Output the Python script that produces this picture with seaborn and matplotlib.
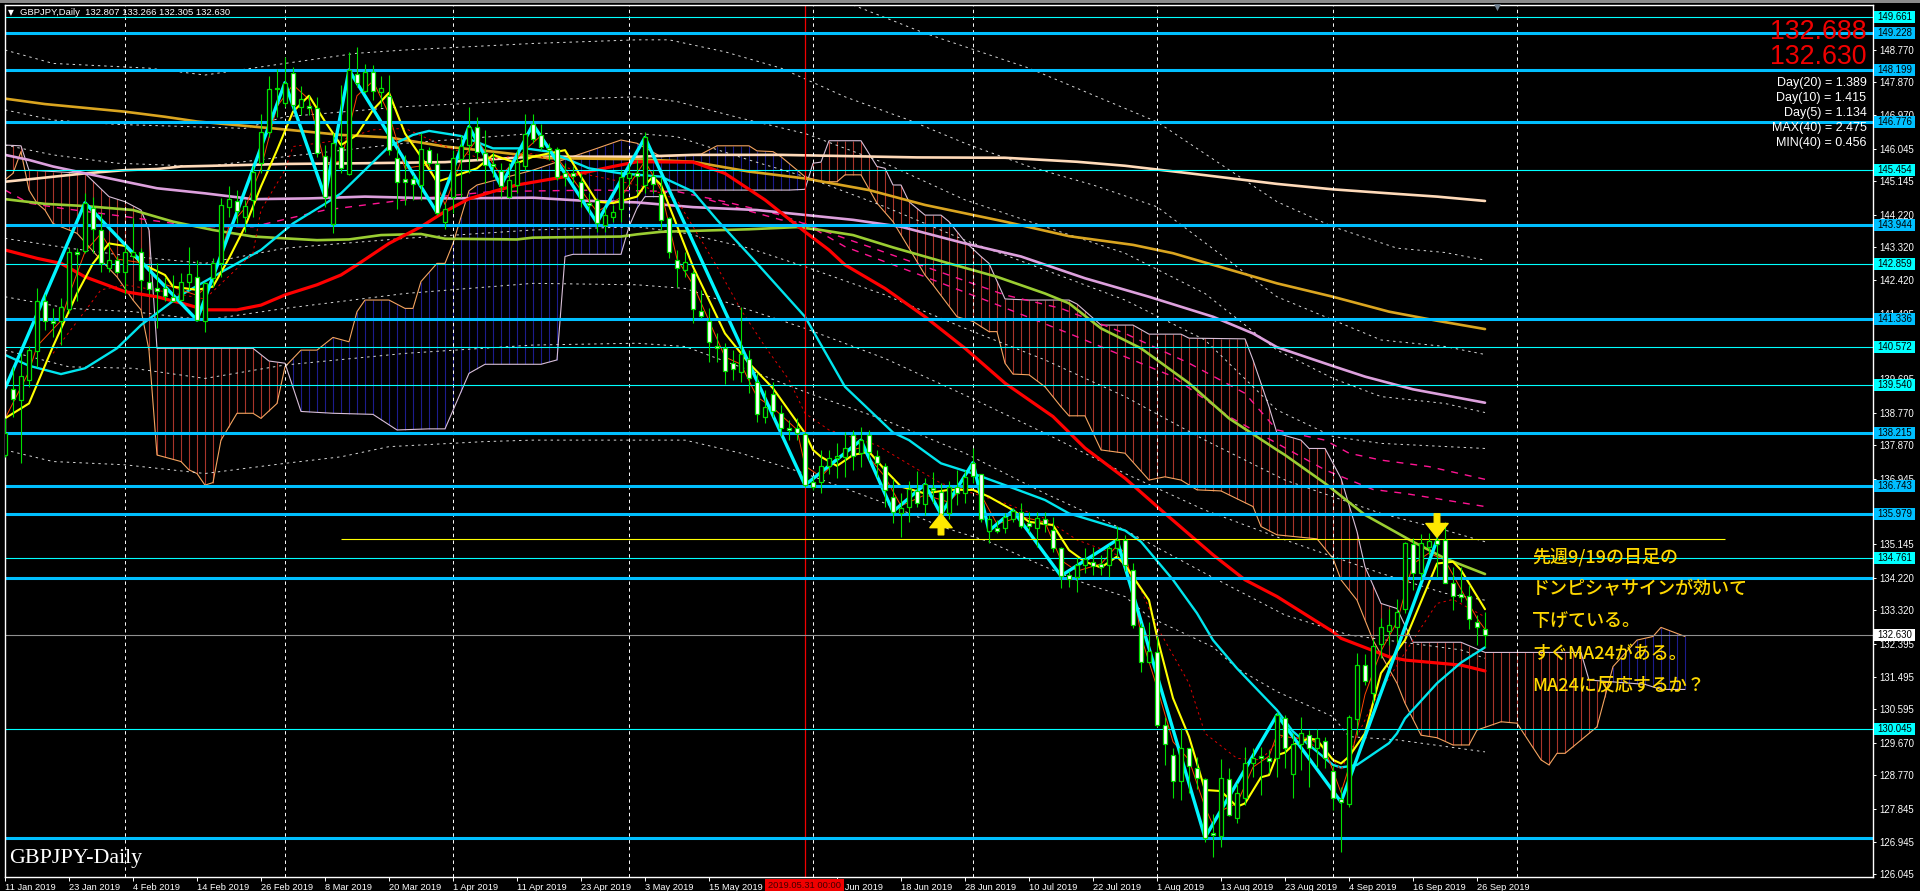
import numpy as np
import matplotlib
matplotlib.use('Agg')
import matplotlib.pyplot as plt
from matplotlib.patches import Rectangle
from matplotlib.transforms import blended_transform_factory
import seaborn as sns

# daily candles, 186 bars
opens = [137.60,139.41,139.12,139.67,140.47,141.83,141.29,141.30,141.61,143.18,
         143.23,144.40,143.80,142.74,142.97,142.65,143.07,143.20,142.38,142.19,
         142.19,141.94,141.87,142.38,142.51,141.30,142.47,142.88,144.44,144.61,
         144.17,144.63,145.64,146.51,147.70,147.29,148.12,147.20,147.23,147.15,
         145.85,143.97,146.10,145.34,148.10,147.63,148.16,147.59,147.50,145.79,
         145.20,145.21,145.04,146.00,145.61,144.03,144.72,145.75,146.14,146.65,
         145.93,145.61,145.43,144.72,145.04,145.56,146.71,146.42,146.07,146.03,
         145.36,145.36,145.13,144.55,144.63,143.94,144.15,144.37,145.22,145.36,
         145.04,145.30,144.78,144.12,142.97,142.70,142.62,141.58,141.30,140.59,
         140.56,140.14,139.88,140.25,139.62,138.66,139.27,138.77,138.34,138.34,
         138.18,136.85,136.85,137.30,137.51,137.55,138.15,137.65,138.15,137.58,
         137.31,136.45,136.00,136.16,136.62,136.25,136.68,136.59,136.00,136.73,
         136.54,137.39,137.07,135.51,135.58,135.58,135.83,136.04,135.72,135.58,
         135.85,135.52,135.03,134.29,134.23,134.57,134.64,134.60,134.57,135.03,
         135.26,134.43,132.87,131.91,132.18,130.16,129.33,128.62,129.52,128.98,
         128.67,127.19,127.11,128.67,127.59,128.14,129.12,129.31,129.26,129.24,
         130.36,128.80,129.64,129.88,129.52,129.73,128.88,128.11,127.97,130.32,
         131.80,131.03,132.39,132.76,132.87,133.35,135.15,134.36,135.07,135.26,
         135.27,134.08,133.78,133.71,133.01,132.807]
highs = [138.61,140.03,140.40,140.59,142.19,142.05,141.64,141.92,143.30,143.30,
         144.83,144.72,144.26,143.43,143.07,143.39,144.12,143.30,142.79,142.88,
         142.51,142.56,142.61,143.32,142.97,142.38,143.02,144.67,145.00,144.90,
         144.63,145.55,147.01,148.04,148.25,148.56,148.30,147.77,147.52,147.47,
         146.14,146.46,147.80,148.71,148.85,148.37,148.35,148.03,148.07,146.05,
         145.87,145.32,146.46,146.10,145.91,144.54,146.00,146.42,147.18,146.92,
         146.56,145.96,145.64,145.64,146.00,147.00,147.00,146.72,146.19,146.10,
         145.64,145.55,145.36,144.81,144.67,144.44,144.49,145.45,145.64,145.73,
         146.49,145.45,145.27,144.17,143.25,143.20,142.70,142.15,141.64,140.95,
         140.68,140.49,141.69,140.49,139.85,139.39,139.62,138.98,138.57,138.61,
         138.24,137.00,137.74,137.74,137.92,138.24,138.29,138.38,138.29,137.74,
         137.37,136.93,136.54,136.87,137.17,136.96,137.12,136.82,136.89,137.19,
         137.19,137.78,137.09,135.95,135.81,135.99,136.13,136.27,136.04,136.04,
         136.04,135.90,135.07,134.39,134.80,135.03,135.07,134.84,135.12,135.64,
         135.40,134.62,132.96,133.01,132.60,130.39,129.52,130.07,129.52,129.29,
         128.69,127.72,129.21,128.97,128.55,129.56,129.52,129.56,129.47,130.53,
         130.44,129.93,130.37,130.02,130.04,129.84,129.06,128.46,130.44,132.14,
         132.11,132.53,133.10,133.37,133.62,135.21,135.30,135.41,135.44,135.72,
         135.76,134.52,134.52,134.02,133.19,133.266]
lows = [137.55,138.66,137.37,139.48,140.03,141.04,140.86,140.63,141.50,141.83,
        143.16,143.16,142.65,142.65,142.61,142.05,143.02,142.15,142.05,141.09,
        141.83,141.83,141.83,142.15,141.28,141.00,142.24,142.51,144.17,143.98,
        143.75,144.17,145.36,146.37,146.92,147.20,147.11,146.97,146.97,145.82,
        144.44,143.71,145.36,145.32,147.73,147.58,147.38,147.20,145.87,144.37,
        144.49,144.63,144.63,145.55,144.21,143.82,144.26,144.72,145.36,145.73,
        145.09,145.27,144.72,144.67,144.81,145.45,146.19,146.00,145.73,145.18,
        145.00,145.09,144.44,144.26,143.75,143.75,144.03,144.03,145.00,144.81,
        144.81,144.81,143.80,143.02,142.24,142.51,141.23,141.37,140.17,140.17,
        139.56,139.67,139.62,139.30,138.52,138.49,138.66,138.11,138.01,138.01,
        136.73,136.64,136.54,137.09,136.98,137.00,137.19,137.28,137.46,137.00,
        136.18,135.72,135.35,135.76,136.18,135.95,136.27,135.67,135.85,136.22,
        136.27,136.82,135.76,135.17,135.44,135.44,135.76,135.58,135.49,135.07,
        135.49,134.94,133.93,133.97,133.83,134.34,134.29,134.29,134.23,134.80,
        134.39,132.82,131.63,131.86,130.11,129.06,128.16,128.09,128.28,128.41,
        126.95,126.53,126.79,127.64,127.45,127.96,128.74,128.23,128.83,128.74,
        128.97,128.16,128.92,128.46,129.01,128.97,127.82,126.67,127.91,129.88,
        131.26,130.76,132.00,132.36,132.46,133.24,133.88,134.16,134.84,134.25,
        134.06,133.33,133.56,132.81,132.36,132.305]
closes = [138.20,139.13,139.78,140.49,141.83,141.28,141.23,141.69,143.20,143.13,
          144.55,143.82,142.90,142.97,142.65,143.18,143.20,142.42,142.17,142.13,
          141.99,141.85,142.38,142.58,141.32,142.33,142.88,144.49,144.65,144.33,
          144.46,145.39,146.51,147.68,147.68,147.86,147.25,147.40,147.15,145.91,
          144.72,146.19,145.50,148.21,147.84,148.16,147.63,147.72,146.00,145.12,
          145.13,145.07,146.03,145.64,144.28,144.37,145.78,146.12,146.65,145.96,
          145.59,145.55,145.02,145.18,145.66,146.44,146.30,146.10,146.00,145.27,
          145.27,145.29,144.65,144.49,144.00,144.21,144.29,145.27,145.36,145.29,
          146.35,145.07,144.08,143.18,142.74,142.93,141.61,141.43,140.72,140.54,
          139.91,139.96,140.37,139.71,138.72,138.91,138.81,138.34,138.29,138.22,
          136.77,136.73,137.31,137.53,137.57,137.78,137.57,138.01,137.67,137.37,
          136.64,136.04,136.13,136.65,136.27,136.79,136.64,135.97,136.71,136.54,
          137.00,137.03,135.85,135.83,135.51,135.88,136.07,135.65,135.65,135.87,
          135.70,135.03,134.27,134.17,134.57,134.73,134.55,134.52,135.03,135.26,
          134.57,132.92,131.91,132.21,130.16,129.64,128.62,129.52,129.03,128.69,
          127.06,127.14,128.71,127.68,128.28,129.12,129.24,129.26,129.18,130.44,
          129.52,129.65,129.93,129.54,129.79,129.24,128.14,128.04,130.39,131.80,
          131.37,132.35,132.87,132.92,133.28,135.17,134.36,135.17,135.22,135.15,
          134.08,133.71,133.70,133.08,132.85,132.630]

# zigzag pivots
zig_bars = [0,10,24,35,40,43,54,58,62,66,74,80,100,107,111,115,117,121,123,126,132,139,150,159,167,179]
zig_vals = [139.43,144.55,141.32,147.86,144.72,148.21,144.28,146.65,145.02,146.71,144.00,146.35,136.77,
            138.01,136.04,136.79,135.97,137.39,135.51,136.07,134.27,135.26,127.06,130.44,128.04,135.26]

# moving averages, read at the bends
ma24_bars = [0,3,7,10,14,17,22,26,32,36,40,42,48,51,53,57,61,65,68,73,77,82,86,89,94,100,105,111,113,117,
             121,125,130,133,140,142,146,149,151,154,159,161,166,167,169,173,174,175,179,182,185]
ma24_vals = [140.36,140.06,139.83,139.99,140.54,141.18,142.01,142.51,143.25,143.98,144.52,144.81,146.10,
             146.42,146.53,146.39,146.05,146.05,145.96,145.50,145.36,145.27,144.86,144.08,142.88,141.41,
             139.48,138.22,138.01,137.37,137.09,136.77,136.36,135.99,135.52,135.21,134.16,133.24,132.50,
             131.72,130.57,129.98,129.06,128.99,129.06,129.66,129.93,130.34,131.31,131.88,132.30]
yellow_bars = [0,3,6,9,11,13,15,17,20,21,24,26,28,30,32,34,36,38,40,42,44,46,48,50,52,54,56,59,61,64,66,70,
               72,74,76,79,80,81,82,86,90,93,96,100,101,102,104,106,108,110,112,115,118,121,123,126,128,131,
               133,135,137,139,140,143,144,146,148,150,152,154,155,157,158,159,160,161,163,164,166,167,168,
               170,172,175,179,181,182,185]
yellow_vals = [138.61,139.02,140.59,142.05,142.88,143.43,143.36,142.88,142.56,142.24,142.15,142.24,143.02,
               143.89,145.00,146.00,147.06,147.50,146.79,146.14,146.42,147.11,147.58,146.46,145.82,145.13,
               145.27,145.50,145.87,145.64,145.82,146.00,145.27,144.58,144.54,144.72,145.04,145.27,145.04,
               142.79,140.95,140.13,139.44,138.20,137.74,137.55,137.30,137.60,137.69,137.19,136.73,136.54,
               136.64,136.64,136.45,136.08,135.76,135.67,134.98,134.66,134.50,134.80,134.57,133.60,132.60,
               130.90,129.84,128.37,128.34,127.91,128.00,128.72,128.78,129.33,129.40,129.61,129.79,129.75,
               129.20,129.10,129.29,129.93,131.59,132.50,134.61,134.66,134.43,133.35]
red_bars = [0,4,7,10,15,19,23,25,29,32,35,39,42,44,48,52,55,58,61,64,70,76,79,86,90,95,100,103,105,110,115,
            120,125,131,135,140,145,151,155,159,166,167,173,175,182,185]
red_vals = [143.25,143.02,142.88,142.51,142.10,141.96,141.73,141.60,141.60,141.73,142.01,142.29,142.56,
            142.84,143.43,143.89,144.31,144.66,144.86,145.04,145.27,145.55,145.68,145.67,145.36,144.63,
            143.75,143.25,142.84,142.19,141.41,140.54,139.58,138.66,137.79,136.96,135.99,134.85,134.16,
            133.70,132.73,132.55,132.04,131.95,131.81,131.65]
olive_bars = [0,5,10,16,21,26,31,39,43,47,52,55,64,66,77,79,82,93,99,102,106,111,118,124,130,133,137,142,
              148,153,159,160,165,170,176,180,185]
olive_vals = [144.65,144.52,144.46,144.35,144.03,143.80,143.62,143.52,143.54,143.66,143.69,143.56,143.54,
              143.59,143.62,143.68,143.75,143.82,143.88,143.80,143.66,143.32,142.88,142.51,142.05,141.78,
              141.09,140.54,139.58,138.61,137.74,137.60,136.82,135.95,135.21,134.75,134.32]
plum_bars = [0,3,6,9,12,19,25,31,38,45,54,66,72,79,86,94,106,112,120,127,135,143,151,156,159,166,170,176,185]
plum_vals = [145.87,145.73,145.55,145.41,145.27,144.95,144.81,144.65,144.67,144.72,144.67,144.69,144.61,
             144.56,144.43,144.35,144.08,143.89,143.43,143.07,142.47,141.96,141.41,140.95,140.57,140.05,
             139.76,139.41,139.04]
gold_bars = [0,5,15,20,24,31,35,42,48,55,61,68,79,86,93,100,108,115,125,133,141,146,151,159,166,173,179,185]
gold_vals = [147.42,147.27,147.06,146.92,146.79,146.65,146.57,146.42,146.35,146.10,145.96,145.78,145.75,
             145.68,145.41,145.22,144.90,144.49,144.03,143.63,143.39,143.16,142.84,142.33,141.96,141.55,
             141.30,141.07]
peach_bars = [0,4,10,15,19,22,26,35,45,55,66,79,86,97,114,125,134,140,147,159,166,173,179,185]
peach_vals = [145.13,145.22,145.36,145.45,145.48,145.55,145.57,145.62,145.64,145.67,145.82,145.82,145.87,
              145.87,145.80,145.79,145.68,145.57,145.39,145.07,144.92,144.81,144.72,144.60]
pink1_bars = [0,3,7,15,24,31,40,50,61,74,84,90,97,102,108,115,125,132,140,148,155,159,165,168,172,178,185]
pink1_vals = [144.90,144.54,144.40,144.17,143.89,143.89,144.35,144.63,144.86,144.90,144.86,144.58,144.21,
              143.80,143.34,142.79,142.01,141.64,140.95,140.13,139.30,138.29,138.01,137.65,137.46,137.28,136.93]
pink2_bars = [88,97,100,105,115,123,133,146,153,159,165,171,175,185]
pink2_vals = [144.63,144.08,143.98,143.34,142.51,141.83,140.95,139.76,138.66,137.92,137.19,136.65,136.54,136.18]
fast_bars = [0,3,4,7,8,10,12,14,17,20,24,26,28,30,32,34,36,38,40,42,44,46,48,50,53,55,57,59,62,65,67,70,74,
             77,80,82,84,86,88,90,92,94,96,99,100,102,105,107,110,112,115,118,120,122,124,127,130,132,134,137,
             139,140,141,142,144,146,148,150,151,152,154,156,158,159,161,163,165,167,168,170,172,174,176,178,
             180,182,184,185]
fast_vals = [138.6,139.9,140.6,141.3,142.0,143.2,143.7,143.0,142.9,142.3,142.0,142.4,143.9,144.4,145.5,147.2,
             147.8,147.4,145.6,145.7,147.5,147.9,147.0,145.5,145.6,144.5,145.7,146.3,145.3,146.0,146.4,145.5,
             144.3,144.7,145.7,144.9,143.0,142.3,141.3,140.3,140.1,139.2,138.9,138.3,137.3,137.0,137.7,137.8,
             137.0,136.2,136.5,136.3,136.8,136.5,135.7,135.9,135.75,134.7,134.4,134.6,135.1,134.9,134.0,132.6,
             131.2,129.7,129.2,127.9,127.4,127.8,128.0,129.0,129.3,129.9,129.8,129.8,129.5,128.3,129.0,131.0,
             132.2,133.0,134.6,134.9,134.7,133.9,133.1,132.8]
dotred_bars = [6,12,15,20,25,31,32,35,36,42,46,50,55,60,66,72,76,80,84,85,89,92,95,98,100,103,109,117,125,130,
               134,139,142,144,148,150,154,157,160,161,165,167,171,176,179,181,185]
dotred_vals = [140.40,142.15,142.29,142.10,141.90,143.16,144.35,145.45,146.10,146.28,146.56,146.60,146.10,
               145.73,145.91,145.36,145.18,144.99,144.63,144.26,142.79,141.60,140.59,139.67,138.75,138.29,
               137.87,136.82,136.27,135.85,135.26,134.85,133.88,132.87,131.31,129.93,129.24,129.20,129.93,
               129.84,129.47,128.92,130.76,132.50,133.51,133.62,133.14]

# dotted band lines
band_a_bars = [106,115,128,144,159,166,174,180,185]
band_a_vals = [150.00,149.22,148.26,146.78,144.58,143.89,143.30,143.18,142.97]
band_b_bars = [0,6,18,25,35,44,50,66,79,83,90,97,105,113,120,128,136,144,159,166,172,180,185]
band_b_vals = [148.76,148.39,148.26,148.07,148.39,148.67,148.76,148.94,149.04,149.04,148.71,148.26,147.47,
               146.83,146.19,145.55,145.04,144.44,141.96,141.32,140.77,140.59,140.37]
band_c_bars = [0,6,14,30,35,50,66,79,84,92,100,110,120,130,140,150,159,166,172,180,185]
band_c_vals = [147.11,146.83,146.71,146.60,146.92,147.20,147.38,147.47,147.34,146.88,146.46,145.64,144.63,
               143.89,143.16,142.05,140.49,139.71,139.21,139.02,138.77]
band_e_bars = [0,6,14,25,35,50,66,79,84,93,100,110,120,130,140,150,159,166,172,185]
band_e_vals = [146.14,145.87,145.64,145.55,145.82,146.19,146.46,146.46,146.37,145.73,145.27,144.44,143.52,
               142.70,141.87,140.77,138.84,138.11,137.92,137.78]
band_f_bars = [0,8,16,25,35,50,66,79,85,93,100,110,120,130,140,150,160,172,180,185]
band_f_vals = [143.57,143.30,143.07,142.88,143.30,143.57,143.80,143.89,143.71,143.30,142.79,142.01,141.09,
               140.22,139.21,138.01,136.91,135.99,135.53,135.21]
band_g_bars = [0,8,16,25,35,50,66,79,85,93,100,110,120,130,140,150,160,172,180,185]
band_g_vals = [141.96,141.64,141.55,141.32,141.64,142.05,142.33,142.29,142.19,141.60,141.09,140.26,139.25,
               138.20,137.09,136.08,135.26,134.34,133.79,133.60]
band_h_bars = [0,8,16,25,35,50,66,79,85,93,100,110,120,130,140,150,160,166,168,174,182,185]
band_h_vals = [140.49,140.03,139.99,139.71,140.08,140.40,140.63,140.68,140.59,139.94,139.34,138.56,137.65,
               136.54,135.53,134.34,133.19,132.78,132.64,132.46,132.23,132.00]
band_j_bars = [0,6,15,25,35,42,48,60,66,85,92,100,110,117,123,130,135,140,143,151,154,159,166,168,174,185]
band_j_vals = [137.74,137.42,137.33,137.09,137.37,137.55,137.83,137.97,138.01,138.01,137.65,137.09,136.27,
               135.63,135.21,134.52,134.06,133.70,133.14,132.31,131.72,131.08,130.39,129.84,129.75,129.42]

# ichimoku cloud
span_a_bars = [0,1,2,3,4,5,6,9,12,14,16,17,18,19,22,23,24,25,26,27,29,31,32,34,35,37,39,41,43,44,45,48,50,51,
               52,54,55,56,58,59,66,74,77,79,82,87,89,93,94,96,97,100,102,104,105,107,109,111,113,115,116,119,
               121,123,124,125,126,128,130,132,133,135,137,140,143,145,147,149,152,156,157,159,164,166,167,169,
               171,174,175,177,179,181,183,184,187,189,192,193,194,195,199,201,204,206,207,210]
span_a_vals = [145.18,145.36,145.96,144.90,144.54,144.35,143.98,143.71,142.97,142.51,141.87,141.60,140.49,
               137.60,137.42,137.19,137.09,136.77,136.84,138.01,138.75,138.75,138.61,139.02,140.03,140.49,
               140.49,140.84,140.72,141.55,141.87,141.87,141.64,141.64,142.38,142.88,142.88,143.43,144.88,
               145.04,145.45,146.05,146.28,146.19,145.82,145.89,146.12,146.12,145.98,145.96,145.82,145.27,
               145.13,145.13,145.32,145.32,144.54,144.03,143.30,142.56,142.29,141.41,141.28,141.00,141.00,
               140.13,139.83,139.81,139.48,138.93,138.68,138.68,137.74,137.65,136.91,137.00,136.91,136.64,
               136.61,136.18,135.63,135.40,135.29,134.75,134.16,133.60,132.50,131.31,130.76,129.88,129.81,
               129.61,129.61,130.02,130.25,130.21,129.20,129.06,129.38,129.38,130.11,131.77,132.50,132.60,
               132.85,132.60]
span_b_bars = [0,2,3,10,13,15,17,18,19,31,33,35,37,41,46,49,53,55,58,60,67,69,70,71,77,78,79,80,82,83,98,100,
               101,102,103,107,109,110,111,112,113,115,117,118,120,122,123,125,128,133,134,137,141,143,147,148,
               155,156,158,159,162,163,165,167,169,170,172,174,176,182,185,197,198,205,207,210]
span_b_vals = [146.14,146.12,145.45,145.36,144.72,144.58,144.35,143.80,140.54,140.54,140.19,140.13,138.80,
               138.75,138.72,138.29,138.32,138.32,139.85,140.10,140.10,140.22,143.07,143.13,143.13,143.89,
               144.40,144.72,144.72,144.90,144.90,144.92,145.64,145.67,146.26,146.26,145.55,145.50,145.04,
               145.04,144.58,144.21,144.21,144.03,143.48,143.07,142.88,141.90,141.87,141.87,141.76,141.18,
               141.18,140.93,140.93,140.82,140.80,140.22,138.93,138.20,138.01,137.78,137.78,136.96,135.49,
               134.52,133.51,133.37,132.44,132.44,132.16,132.16,131.40,131.28,131.14,131.14]

# horizontal levels and axis labels
thick_levels = [149.228,148.199,146.776,143.944,141.336,138.215,136.743,135.979,134.220,127.060]
thick_labels = ['149.228','148.199','146.776','143.944','141.336','138.215','136.743','135.979']
thin_levels = [149.661,145.454,142.859,140.572,139.540,134.761,130.045]
last_price = 132.630
resistance = 135.28
resistance_bars = [42,215]
separator_bars = [15,35,56,78,101,121,144,166,189]
cursor_bar = 100
# ticks whose label sits fully under a price box are left out
y_ticks = [148.770,147.870,146.970,146.045,145.145,144.220,143.320,142.420,141.495,139.695,
           138.770,137.870,136.945,135.145,134.220,133.320,132.395,131.495,130.595,129.670,128.770,
           127.845,126.945,126.045]
x_tick_bars = [0,8,16,24,32,40,48,56,64,72,80,88,104,112,120,128,136,144,152,160,168,176,184]
x_tick_labels = ['11 Jan 2019','23 Jan 2019','4 Feb 2019','14 Feb 2019','26 Feb 2019','8 Mar 2019','20 Mar 2019',
                 '1 Apr 2019','11 Apr 2019','23 Apr 2019','3 May 2019','15 May 2019','6 Jun 2019',
                 '18 Jun 2019','28 Jun 2019','10 Jul 2019','22 Jul 2019','1 Aug 2019','13 Aug 2019','23 Aug 2019',
                 '4 Sep 2019','16 Sep 2019','26 Sep 2019']
stats_lines = ['Day(20) = 1.389','Day(10) = 1.415','Day(5) = 1.134','MAX(40) = 2.475','MIN(40) = 0.456']
note_lines = ['先週9/19の日足の','ドンピシャサインが効いて','下げている。','すぐMA24がある。','MA24に反応するか？']

sns.set_theme(style='dark', rc={'figure.facecolor': 'black', 'axes.facecolor': 'black'})
plt.rcParams['font.family'] = ['Liberation Sans', 'DejaVu Sans']

W, H = 1920, 891
fig = plt.figure(figsize=(W/100, H/100), dpi=100)
ax = fig.add_axes([4.5/W, 1-877/H, (1873-4.5)/W, (877-4.7)/H])
ax.set_xlim(-0.06, 233.5)
ax.set_ylim(125.972, 150.008)
ax.grid(False)
for s in ax.spines.values():
    s.set_color('white')
    s.set_linewidth(1)
to_x_axes = blended_transform_factory(ax.transAxes, ax.transData)

# cloud hatching, one stroke per bar
cloud_x = np.arange(0, 211)
a_at_bar = np.interp(cloud_x, span_a_bars, span_a_vals)
b_at_bar = np.interp(cloud_x, span_b_bars, span_b_vals)
hatch_colors = np.where(a_at_bar >= b_at_bar, '#1c1c8c', '#a8352a')
ax.vlines(cloud_x, a_at_bar, b_at_bar, colors=list(hatch_colors), linewidth=0.8, zorder=1.2)


def draw_line(xs, ys, color, lw, z, ls='-'):
    sns.lineplot(x=xs, y=ys, ax=ax, color=color, linewidth=lw, linestyle=ls, zorder=z,
                 estimator=None, sort=False, legend=False)


draw_line(span_a_bars, span_a_vals, '#F4A460', 0.8, 1.4)
draw_line(span_b_bars, span_b_vals, '#D8BFD8', 0.8, 1.4)

dots = (0, (2.5, 4))
for bb, vv in [(band_a_bars, band_a_vals), (band_b_bars, band_b_vals), (band_c_bars, band_c_vals),
               (band_e_bars, band_e_vals), (band_f_bars, band_f_vals), (band_g_bars, band_g_vals),
               (band_h_bars, band_h_vals), (band_j_bars, band_j_vals)]:
    draw_line(bb, vv, '#d8d8d8', 0.7, 1.5, dots)

draw_line(peach_bars, peach_vals, '#FFDAB9', 1.9, 1.7)
draw_line(gold_bars, gold_vals, '#DAA520', 1.9, 1.7)
draw_line(plum_bars, plum_vals, '#DDA0DD', 1.9, 1.7)
draw_line(olive_bars, olive_vals, '#9ACD32', 1.9, 1.7)
draw_line(pink1_bars, pink1_vals, '#FF1493', 1.0, 1.6, (0, (5, 5)))
draw_line(pink2_bars, pink2_vals, '#FF1493', 1.0, 1.6, (0, (5, 5)))
draw_line(red_bars, red_vals, '#FF0000', 2.3, 1.8)
draw_line(ma24_bars, ma24_vals, '#00E5EE', 1.7, 1.8)
draw_line(dotred_bars, dotred_vals, '#e00000', 0.7, 1.8, (0, (2.5, 3.5)))
draw_line(fast_bars, fast_vals, '#FF4500', 0.7, 1.85)
draw_line(yellow_bars, yellow_vals, '#FFFF00', 1.5, 1.9)
draw_line(zig_bars, zig_vals, '#00F5FF', 2.4, 2.0)

# separators and horizontal objects
ax.vlines(separator_bars, 125.972, 150.008, colors='white', linewidth=0.7, linestyles=[(0, (3.5, 3.5))], zorder=2.1)
ax.axvline(cursor_bar, color='#F00000', linewidth=0.9, zorder=2.2)
for lv in thin_levels:
    ax.axhline(lv, color='#00FFFF', linewidth=0.8, zorder=2.4)
ax.axhline(last_price, color='#909090', linewidth=0.8, zorder=2.4)
ax.hlines(resistance, resistance_bars[0], resistance_bars[1], color='#FFFF00', linewidth=0.8, zorder=2.4)
for lv in thick_levels:
    ax.axhline(lv, color='#00BFFF', linewidth=2.2, zorder=2.5)

# candles
bars = np.arange(len(closes))
o, c = np.array(opens), np.array(closes)
ax.vlines(bars, lows, highs, colors='#00E000', linewidth=0.8, zorder=3)
ax.bar(bars, np.abs(c-o), bottom=np.minimum(o, c), width=0.55,
       color=np.where(c < o, 'white', 'black').tolist(), edgecolor='#00E000', linewidth=0.9, zorder=3.2)

# arrows
ax.annotate('', xy=(117, 135.98), xytext=(117, 135.40), zorder=3.5,
            arrowprops=dict(facecolor='#FFE800', edgecolor='#FFE800', width=4, headwidth=16, headlength=10))
ax.annotate('', xy=(179, 135.33), xytext=(179, 135.98), zorder=3.5,
            arrowprops=dict(facecolor='#FFE800', edgecolor='#FFE800', width=4, headwidth=16, headlength=10))

# axes
ax.yaxis.tick_right()
ax.set_yticks(y_ticks)
ax.set_yticklabels([f'{t:.3f}' for t in y_ticks], fontsize=6.9, color='white')
ax.set_xticks(x_tick_bars)
ax.set_xticklabels(x_tick_labels, fontsize=6.7, color='white', ha='left')
ax.tick_params(axis='y', length=2.5, width=0.7, color='white', pad=2.2, right=True, left=False)
ax.tick_params(axis='x', length=3, width=0.7, color='white', pad=1.2, bottom=True)
ax.set_xlabel('')
ax.set_ylabel('')


def price_box(lv, label, color):
    ax.add_patch(Rectangle((1.0006, lv-0.165), 0.0219, 0.33, transform=to_x_axes, facecolor=color,
                           edgecolor='none', clip_on=False, zorder=6))
    ax.text(1.0117, lv, label, transform=to_x_axes, fontsize=6.9, color='black', ha='center', va='center',
            clip_on=False, zorder=7)


for lv, lab in zip(thick_levels, thick_labels):
    price_box(lv, lab, '#00BFFF')
for lv in thin_levels:
    price_box(lv, f'{lv:.3f}', '#00FFFF')
price_box(last_price, f'{last_price:.3f}', 'white')

# texts in pixel coordinates of the window


def px_text(x, y, s, **kw):
    fig.text(x/W, 1-y/H, s, va='center', **kw)


px_text(11, 12.5, '▼', color='white', fontsize=5.5, family='DejaVu Sans', ha='center')
px_text(20, 12.5, 'GBPJPY,Daily  132.807 133.266 132.305 132.630', color='white', fontsize=6.8, ha='left')
px_text(1497.5, 7, '▼', color='#708090', fontsize=6.5, family='DejaVu Sans', ha='center')
px_text(1866.5, 32, '132.688', color='#F00000', fontsize=19.3, ha='right')
px_text(1866.5, 57, '132.630', color='#F00000', fontsize=19.3, ha='right')
for n, line in enumerate(stats_lines):
    px_text(1866.5, 83+15*n, line, color='white', fontsize=9, ha='right')
for n, line in enumerate(note_lines):
    px_text(1532, 557+32.1*n, line, color='#FFD800', fontsize=13, ha='left', fontweight='medium',
            family=['Noto Sans CJK JP', 'DejaVu Sans'])
px_text(9, 858, 'GBPJPY-Daily', color='white', fontsize=15.8, ha='left', family='Liberation Serif')

# cursor time box on the date axis
fig.patches.append(Rectangle((765/W, 0), 79/W, 1-879/H, transform=fig.transFigure, facecolor='#F00000', edgecolor='none', zorder=8))
px_text(804.5, 886, '2019.05.31 00:00', color='#400000', fontsize=6.7, ha='center', zorder=9)
# window title strip
fig.patches.append(Rectangle((0, 1-3/H), 1, 3/H, transform=fig.transFigure, facecolor='#8a8a8a', edgecolor='none'))

fig.savefig('out.png', dpi=100, facecolor='black')
